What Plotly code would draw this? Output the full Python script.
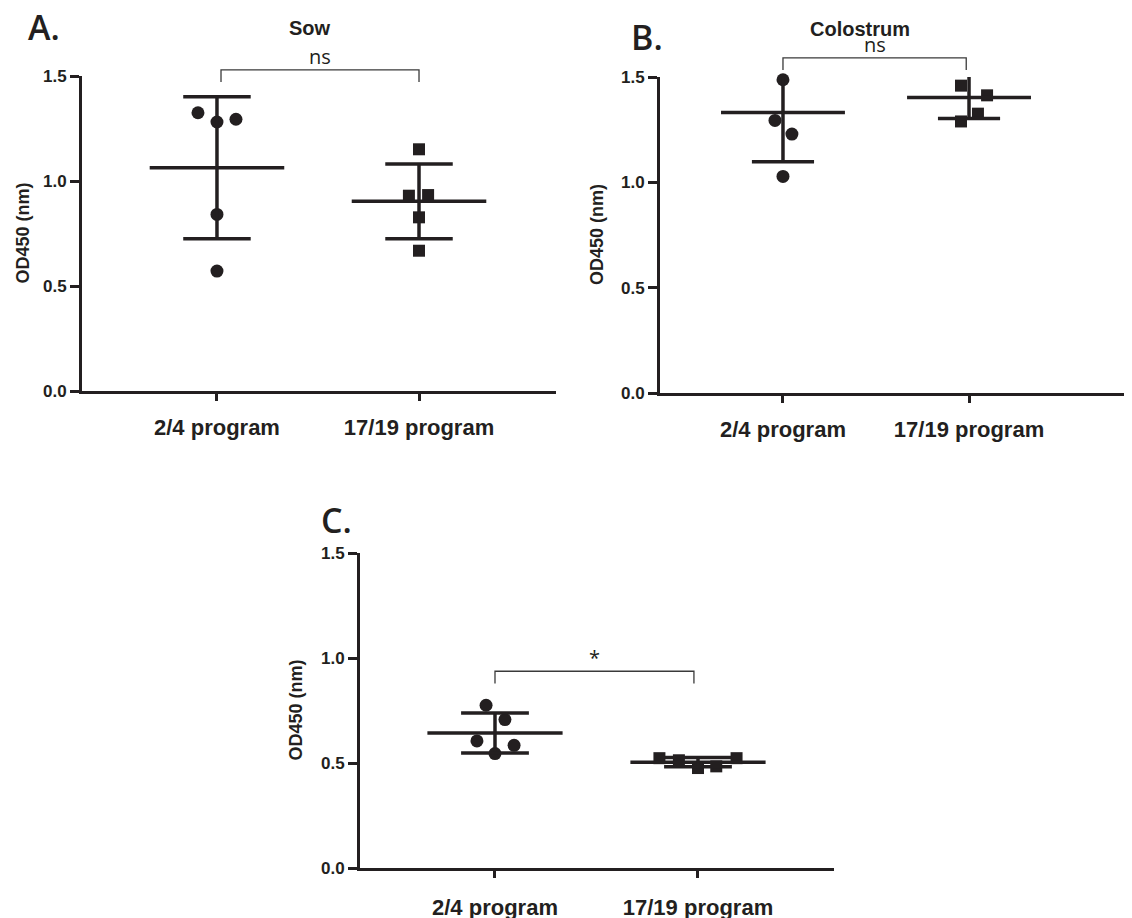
import plotly.graph_objects as go

PAGE_W, PAGE_H = 1132, 918
OFF = 8  # default page margin of the browser body
W, H = PAGE_W - OFF, PAGE_H - OFF
INK = "#231f20"
ARIAL = "Liberation Sans, Arial, Helvetica, sans-serif"
MYRIAD = "Open Sans, Noto Sans, sans-serif"

# ---------------- data ----------------
categories = ["2/4 program", "17/19 program"]
y_tickvals = [0.0, 0.5, 1.0, 1.5]
y_ticktext = ["0.0", "0.5", "1.0", "1.5"]
y_max = 1.5

# Panel A : Sow
sow_24 = [1.325, 1.281, 1.294, 0.841, 0.571]
sow_24_jitter = [-0.094, 0.0, 0.094, 0.0, 0.0]
sow_1719 = [1.151, 0.930, 0.933, 0.827, 0.668]
sow_1719_jitter = [0.0, -0.05, 0.045, 0.0, 0.0]
sow_mean = [1.063, 0.903]
sow_sd = [0.338, 0.178]

# Panel B : Colostrum
col_24 = [1.487, 1.294, 1.229, 1.028]
col_24_jitter = [0.0, -0.043, 0.048, 0.0]
col_1719 = [1.459, 1.413, 1.326, 1.289]
col_1719_jitter = [-0.043, 0.097, 0.048, -0.043]
col_mean = [1.332, 1.403]
col_sd = [0.234, 0.100]

# Panel C : piglets
pig_24 = [0.775, 0.707, 0.605, 0.584, 0.545]
pig_24_jitter = [-0.044, 0.049, -0.089, 0.094, 0.0]
pig_1719 = [0.523, 0.513, 0.476, 0.484, 0.523]
pig_1719_jitter = [-0.19, -0.094, 0.0, 0.09, 0.19]
pig_mean = [0.643, 0.504]
pig_sd = [0.095, 0.022]

panel_titles = ["Sow", "Colostrum", ""]
panel_letters = ["A.", "B.", "C."]
significance = ["ns", "ns", "*"]
bracket_x = [[0.02, 1.0], [0.0, 0.985], [0.0, 0.98]]
bracket_top = [1.529, 1.591, 0.937]
bracket_drop = [0.058, 0.058, 0.058]

# ---------------- layout geometry (page pixels) ----------------
panels = [
    dict(l=82, r=556, t=76, b=391, xr=[-0.668, 1.678],
         title_xy=(310, 28), letter_xy=(44, 27), ytitle_x=22, standoff=8,
         g1=(sow_24, sow_24_jitter), g2=(sow_1719, sow_1719_jitter),
         mean=sow_mean, sd=sow_sd),
    dict(l=660, r=1132, t=77, b=393, xr=[-0.661, 1.876],
         title_xy=(860, 29), letter_xy=(647, 37), ytitle_x=597, standoff=8,
         g1=(col_24, col_24_jitter), g2=(col_1719, col_1719_jitter),
         mean=col_mean, sd=col_sd),
    dict(l=360, r=834, t=553, b=868, xr=[-0.665, 1.67],
         title_xy=None, letter_xy=(337, 520), ytitle_x=295, standoff=11,
         g1=(pig_24, pig_24_jitter), g2=(pig_1719, pig_1719_jitter),
         mean=pig_mean, sd=pig_sd),
]


def px(x):
    return (x - OFF) / W


def py(y):
    return 1 - (y - OFF) / H


MEAN_HALF = 0.333
CAP_HALF = 0.167

fig = go.Figure()
shapes = []
annotations = []

for k, p in enumerate(panels):
    sfx = "" if k == 0 else str(k + 1)
    xa, ya = "x" + sfx, "y" + sfx
    # points
    for gi, (vals, jit) in enumerate([p["g1"], p["g2"]]):
        fig.add_trace(go.Scatter(
            x=[gi + j for j in jit], y=vals, mode="markers",
            marker=dict(symbol="circle" if gi == 0 else "square",
                        size=13 if gi == 0 else 12, color=INK,
                        line=dict(width=0)),
            cliponaxis=False, showlegend=False, hoverinfo="y",
            xaxis=xa, yaxis=ya))
    # mean + SD (caps beyond the axis top are clipped away, as in the source)
    xs, ys = [], []
    for gi in range(2):
        m, s = p["mean"][gi], p["sd"][gi]
        xs += [gi - MEAN_HALF, gi + MEAN_HALF, None]
        ys += [m, m, None]
        xs += [gi, gi, None]
        ys += [m - s, m + s, None]
        if m + s < y_max:
            xs += [gi - CAP_HALF, gi + CAP_HALF, None]
            ys += [m + s, m + s, None]
        xs += [gi - CAP_HALF, gi + CAP_HALF, None]
        ys += [m - s, m - s, None]
    fig.add_trace(go.Scatter(x=xs, y=ys, mode="lines",
                             line=dict(color=INK, width=3.5),
                             showlegend=False, hoverinfo="skip",
                             xaxis=xa, yaxis=ya))

    dom_x = [max(0.0, px(p["l"])), min(1.0, px(p["r"]))]
    dom_y = [py(p["b"]), py(p["t"])]
    axis_common = dict(showgrid=False, zeroline=False, showline=True,
                       linecolor=INK, linewidth=3, ticks="outside",
                       tickcolor=INK, tickwidth=3, automargin=False)
    fig.layout["xaxis" + sfx] = dict(
        axis_common, domain=dom_x, range=p["xr"], anchor=ya,
        tickvals=[0, 1], ticktext=categories, ticklen=7,
        tickfont=dict(family=ARIAL, size=22, color=INK, weight="bold"),
        ticklabelstandoff=p["standoff"])
    fig.layout["yaxis" + sfx] = dict(
        axis_common, domain=dom_y, range=[0, y_max], anchor=xa,
        tickvals=y_tickvals, ticktext=y_ticktext, ticklen=9,
        tickfont=dict(family=ARIAL, size=17, color=INK, weight="bold"))

    # bracket (domain-relative so it is not clipped)
    xr0, xr1 = p["xr"]

    def fx(v):
        return (v - xr0) / (xr1 - xr0)

    def fy(v):
        return v / y_max

    bx0, bx1 = bracket_x[k]
    top = bracket_top[k]
    bot = top - bracket_drop[k]
    path = "M {a},{b} L {a},{c} L {d},{c} L {d},{b}".format(
        a=fx(bx0), b=fy(bot), c=fy(top), d=fx(bx1))
    shapes.append(dict(type="path", path=path, xref=xa + " domain",
                       yref=ya + " domain",
                       line=dict(color="#3a3a3a", width=1.3)))
    annotations.append(dict(
        x=fx((bx0 + bx1) / 2), y=fy(top), xref=xa + " domain",
        yref=ya + " domain", text=significance[k], showarrow=False,
        xanchor="center", yanchor="bottom", yshift=-2,
        font=dict(family=MYRIAD, size=20, color=INK)))

    # y-axis title
    annotations.append(dict(
        x=px(p["ytitle_x"]), y=py((p["t"] + p["b"]) / 2),
        xref="paper", yref="paper", text="OD450 (nm)", textangle=-90,
        showarrow=False, xanchor="center", yanchor="middle",
        font=dict(family=ARIAL, size=18, color=INK, weight="bold")))
    # panel title
    if p["title_xy"] is not None and panel_titles[k]:
        tx, ty = p["title_xy"]
        annotations.append(dict(
            x=px(tx), y=py(ty), xref="paper", yref="paper",
            text=panel_titles[k], showarrow=False, xanchor="center",
            yanchor="middle",
            font=dict(family=ARIAL, size=20, color=INK, weight="bold")))
    # panel letter
    lx, ly = p["letter_xy"]
    annotations.append(dict(
        x=px(lx), y=py(ly), xref="paper", yref="paper",
        text=panel_letters[k], showarrow=False, xanchor="center",
        yanchor="middle",
        font=dict(family=MYRIAD, size=34, color=INK, weight=600)))

fig.update_layout(width=W, height=H, margin=dict(l=0, r=0, t=0, b=0, pad=0),
                  template="none",
                  paper_bgcolor="white", plot_bgcolor="white",
                  shapes=shapes, annotations=annotations, showlegend=False)

fig.write_html("out.html")
